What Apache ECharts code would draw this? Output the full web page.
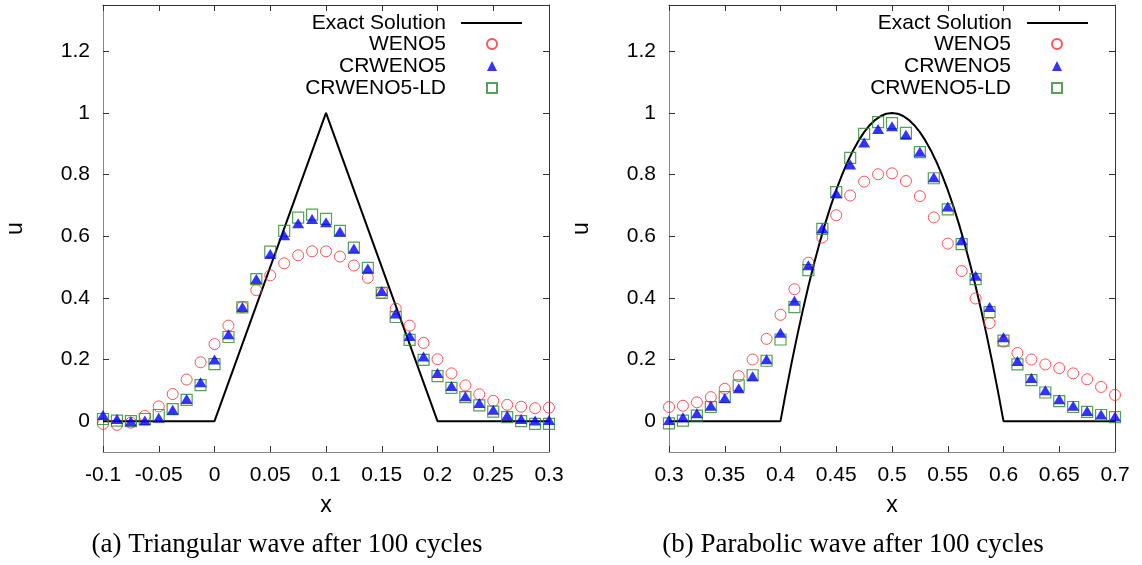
<!DOCTYPE html>
<html>
<head>
<meta charset="utf-8">
<script src="https://cdn.jsdelivr.net/npm/echarts@6/dist/echarts.min.js"></script>
<style>
  html, body { margin: 0; padding: 0; background: #fff; }
  #main { width: 1142px; height: 565px; }
</style>
</head>
<body>
<div id="main"></div>
<script>
// grid points (every 0.0125)
var xTri = [-0.1, -0.0875, -0.075, -0.0625, -0.05, -0.0375, -0.025, -0.0125, 0, 0.0125, 0.025, 0.0375, 0.05, 0.0625, 0.075, 0.0875,
  0.1, 0.1125, 0.125, 0.1375, 0.15, 0.1625, 0.175, 0.1875, 0.2, 0.2125, 0.225, 0.2375, 0.25, 0.2625, 0.275, 0.2875, 0.3];
var xPar = [0.3, 0.3125, 0.325, 0.3375, 0.35, 0.3625, 0.375, 0.3875, 0.4, 0.4125, 0.425, 0.4375, 0.45, 0.4625, 0.475, 0.4875,
  0.5, 0.5125, 0.525, 0.5375, 0.55, 0.5625, 0.575, 0.5875, 0.6, 0.6125, 0.625, 0.6375, 0.65, 0.6625, 0.675, 0.6875, 0.7];

// (a) triangular wave
var exactTri = [[-0.1, 0], [0, 0], [0.1, 1], [0.2, 0], [0.3, 0]];
var wenoTri = [-0.009, -0.012, -0.005, 0.017, 0.048, 0.088, 0.135, 0.191, 0.250, 0.310, 0.370, 0.425, 0.473, 0.512, 0.538, 0.551,
  0.551, 0.534, 0.505, 0.465, 0.416, 0.365, 0.310, 0.254, 0.201, 0.155, 0.116, 0.087, 0.066, 0.053, 0.047, 0.042, 0.044];
var crTri = [0.020, 0.007, 0.000, 0.002, 0.011, 0.037, 0.072, 0.126, 0.200, 0.282, 0.370, 0.461, 0.542, 0.603, 0.642, 0.656,
  0.645, 0.615, 0.560, 0.495, 0.422, 0.349, 0.276, 0.210, 0.156, 0.114, 0.081, 0.059, 0.037, 0.018, 0.007, 0.002, 0.004];
var ldTri = [0.007, 0.002, 0.000, 0.007, 0.020, 0.039, 0.069, 0.117, 0.185, 0.273, 0.369, 0.461, 0.550, 0.617, 0.660, 0.670,
  0.656, 0.617, 0.563, 0.497, 0.416, 0.338, 0.264, 0.199, 0.146, 0.108, 0.078, 0.051, 0.031, 0.013, 0.000, -0.009, -0.009];

// (b) parabolic wave
var exactParX = [0.3, 0.4, 0.405, 0.41, 0.415, 0.42, 0.425, 0.43, 0.435, 0.44, 0.445, 0.45, 0.455, 0.46, 0.465, 0.47, 0.475, 0.48, 0.485, 0.49, 0.495,
  0.5, 0.505, 0.51, 0.515, 0.52, 0.525, 0.53, 0.535, 0.54, 0.545, 0.55, 0.555, 0.56, 0.565, 0.57, 0.575, 0.58, 0.585, 0.59, 0.595, 0.6, 0.7];
var exactParU = [0, 0, 0.0975, 0.19, 0.2775, 0.36, 0.4375, 0.51, 0.5775, 0.64, 0.6975, 0.75, 0.7975, 0.84, 0.8775, 0.91, 0.9375, 0.96, 0.9775, 0.99, 0.9975,
  1, 0.9975, 0.99, 0.9775, 0.96, 0.9375, 0.91, 0.8775, 0.84, 0.7975, 0.75, 0.6975, 0.64, 0.5775, 0.51, 0.4375, 0.36, 0.2775, 0.19, 0.0975, 0, 0];
var wenoPar = [0.046, 0.050, 0.061, 0.078, 0.105, 0.146, 0.200, 0.267, 0.345, 0.428, 0.514, 0.596, 0.668, 0.732, 0.777, 0.801,
  0.804, 0.779, 0.730, 0.661, 0.576, 0.487, 0.398, 0.318, 0.258, 0.221, 0.200, 0.184, 0.172, 0.155, 0.136, 0.111, 0.085];
var crPar = [0.004, 0.013, 0.026, 0.050, 0.075, 0.107, 0.146, 0.201, 0.287, 0.391, 0.506, 0.626, 0.739, 0.833, 0.904, 0.948,
  0.957, 0.929, 0.874, 0.791, 0.696, 0.587, 0.472, 0.370, 0.272, 0.195, 0.140, 0.100, 0.071, 0.050, 0.033, 0.022, 0.015];
var ldPar = [-0.007, 0.002, 0.018, 0.046, 0.078, 0.116, 0.149, 0.196, 0.265, 0.370, 0.490, 0.624, 0.743, 0.854, 0.932, 0.970,
  0.967, 0.935, 0.873, 0.788, 0.687, 0.574, 0.461, 0.354, 0.261, 0.184, 0.133, 0.093, 0.065, 0.046, 0.030, 0.020, 0.013];

var yTicks = [0, 0.2, 0.4, 0.6, 0.8, 1, 1.2];
var captions = ['(a) Triangular wave after 100 cycles', '(b) Parabolic wave after 100 cycles'];

var chart = echarts.init(document.getElementById('main'));

function pairs(xs, ys) {
  return xs.map(function (x, i) { return [x, ys[i]]; });
}

var SANS = 'Liberation Sans';

function xAxes(min, max, gridIndex) {
  return [{
    type: 'value', gridIndex: gridIndex, position: 'bottom', min: min, max: max, interval: 0.05,
    name: 'x', nameLocation: 'middle', nameGap: 42,
    nameTextStyle: { fontFamily: SANS, fontSize: 23, color: '#000' },
    axisLine: { onZero: false, lineStyle: { color: '#888', width: 1 } },
    axisTick: { inside: true, length: 6, lineStyle: { color: '#333' } },
    axisLabel: { fontFamily: SANS, fontSize: 21, color: '#000', margin: 13 },
    splitLine: { show: false }
  }, {
    type: 'value', gridIndex: gridIndex, position: 'top', min: min, max: max, interval: 0.05,
    axisLine: { onZero: false, lineStyle: { color: '#333', width: 1 } },
    axisTick: { inside: true, length: 6, lineStyle: { color: '#333' } },
    axisLabel: { show: false },
    splitLine: { show: false }
  }];
}

function yAxes(gridIndex) {
  return [{
    type: 'value', gridIndex: gridIndex, position: 'left', min: -0.1, max: 1.35,
    name: 'u', nameLocation: 'middle', nameGap: 76,
    nameTextStyle: { fontFamily: SANS, fontSize: 23, color: '#000' },
    axisLine: { show: true, onZero: false, lineStyle: { color: '#888', width: 1 } },
    axisTick: { show: true, inside: true, length: 6, customValues: yTicks, lineStyle: { color: '#333' } },
    axisLabel: { fontFamily: SANS, fontSize: 21, color: '#000', margin: 13, customValues: yTicks },
    splitLine: { show: false }
  }, {
    type: 'value', gridIndex: gridIndex, position: 'right', min: -0.1, max: 1.35,
    axisLine: { show: true, onZero: false, lineStyle: { color: '#333', width: 1 } },
    axisTick: { show: true, inside: true, length: 6, customValues: yTicks, lineStyle: { color: '#333' } },
    axisLabel: { show: false },
    splitLine: { show: false }
  }];
}

function seriesFor(k, exact, weno, cr, ld, xs) {
  var xi = k * 2, yi = k * 2;
  return [{
    name: 'Exact Solution', type: 'line', xAxisIndex: xi, yAxisIndex: yi,
    data: exact, symbol: 'none', smooth: false,
    // transparent item colour so the legend shows only the line
    lineStyle: { color: '#000', width: 2 }, itemStyle: { color: 'rgba(0,0,0,0)', borderWidth: 0 }, z: 2
  }, {
    name: 'WENO5', type: 'scatter', xAxisIndex: xi, yAxisIndex: yi,
    data: pairs(xs, weno), symbol: 'circle', symbolSize: 11,
    itemStyle: { color: 'rgba(0,0,0,0)', borderColor: '#ff2a2a', borderWidth: 1 }, z: 3
  }, {
    name: 'CRWENO5', type: 'scatter', xAxisIndex: xi, yAxisIndex: yi,
    data: pairs(xs, cr), symbol: 'triangle', symbolSize: [12, 10],
    itemStyle: { color: '#0000ff' }, z: 5
  }, {
    name: 'CRWENO5-LD', type: 'scatter', xAxisIndex: xi, yAxisIndex: yi,
    data: pairs(xs, ld), symbol: 'rect', symbolSize: 11,
    itemStyle: { color: 'rgba(0,0,0,0)', borderColor: '#2b8a2b', borderWidth: 1.2 }, z: 4
  }];
}

function legends(lineRight, symRight) {
  var ts = { fontFamily: SANS, fontSize: 21, color: '#000', lineHeight: 22 };
  return [{
    data: ['Exact Solution'], orient: 'vertical', align: 'right', right: lineRight, top: 12,
    padding: 0, itemWidth: 61, itemHeight: 12, selectedMode: false,
    textStyle: Object.assign({ padding: [0, 10, 0, 0] }, ts)
  }, {
    data: ['WENO5', 'CRWENO5', 'CRWENO5-LD'], orient: 'vertical', align: 'right', right: symRight, top: 33,
    padding: 0, itemWidth: 10, itemHeight: 10, itemGap: 0, selectedMode: false,
    textStyle: Object.assign({ padding: [0, 36, 0, 0] }, ts)
  }];
}

var option = {
  backgroundColor: '#fff',
  animation: false,
  grid: [
    { left: 103, top: 5, width: 446, height: 447 },
    { left: 669, top: 5, width: 446, height: 447 }
  ],
  xAxis: xAxes(-0.1, 0.3, 0).concat(xAxes(0.3, 0.7, 1)),
  yAxis: yAxes(0).concat(yAxes(1)),
  legend: legends(619, 644).concat(legends(53, 79)),
  series: seriesFor(0, exactTri, wenoTri, crTri, ldTri, xTri)
    .concat(seriesFor(1, pairs(exactParX, exactParU), wenoPar, crPar, ldPar, xPar)),
  graphic: [
    { type: 'text', x: 287, y: 545, style: { text: captions[0], font: '27px "Liberation Serif"', fill: '#000', textAlign: 'center', textVerticalAlign: 'middle' } },
    { type: 'text', x: 853, y: 545, style: { text: captions[1], font: '27px "Liberation Serif"', fill: '#000', textAlign: 'center', textVerticalAlign: 'middle' } }
  ]
};

chart.setOption(option);
</script>
</body>
</html>
